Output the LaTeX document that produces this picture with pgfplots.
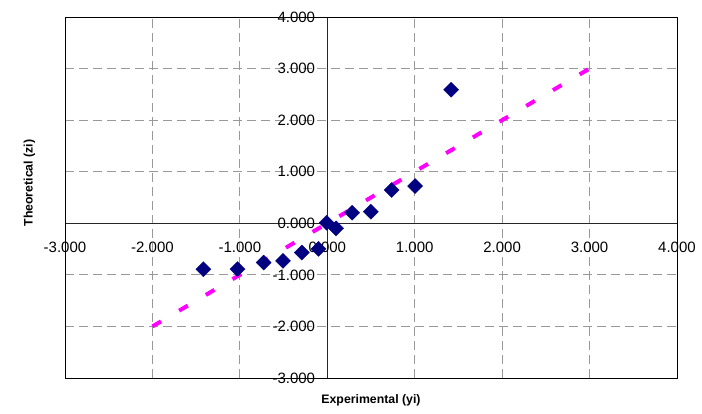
\documentclass[border=0pt]{standalone}
\usepackage{fontspec}
\setmainfont{Liberation Sans}
\usepackage{pgfplots}
\pgfplotsset{compat=1.18}
\definecolor{navy}{HTML}{000080}
\definecolor{mag}{HTML}{FF00FF}
\begin{document}
\begin{tikzpicture}
\begin{axis}[
  scale only axis, width=612pt, height=361pt,
  xmin=-3, xmax=4, ymin=-3, ymax=4,
  enlargelimits=false,
  axis lines=middle,
  axis line style={-, black!85, line width=0.8pt},
  xtick={-3,-2,-1,0,1,2,3,4}, ytick={-3,-2,-1,0,1,2,3,4},
  hide obscured x ticks=false, hide obscured y ticks=false,
  major tick length=0pt,
  grid=major,
  major grid style={black!40, line width=0.8pt, dash pattern=on 9pt off 5pt},
  /pgf/number format/.cd, fixed, zerofill, precision=3, assume math mode=true,
  /pgfplots/.cd,
  xticklabel style={font=\fontsize{15}{18}\selectfont, anchor=north, inner sep=0pt, yshift=-19pt},
  yticklabel style={font=\fontsize{15}{18}\selectfont, anchor=east, inner sep=0pt, xshift=-12pt},
  xlabel={Experimental (yi)},
  ylabel={Theoretical (zi)},
  xlabel style={font=\fontsize{12.3}{14}\bfseries\selectfont, at={(axis description cs:0.5,-0.061)}, anchor=center},
  ylabel style={font=\fontsize{12.3}{14}\bfseries\selectfont, at={(axis description cs:-0.058,0.54)}, anchor=center, rotate=90},
  clip=false,
]
\draw[black, line width=0.8pt] (rel axis cs:0,0) rectangle (rel axis cs:1,1);
\addplot[mag, line width=4pt, dash pattern=on 10pt off 21pt] coordinates {(-2,-2) (3,3)};
\addplot[only marks, mark=square*, mark size=5.3pt, mark options={rotate=45, fill=navy, draw=navy}] coordinates {
(-1.417,-0.890)
(-1.027,-0.890)
(-0.728,-0.762)
(-0.506,-0.729)
(-0.291,-0.568)
(-0.100,-0.497)
(-0.008,0.010)
(0.100,-0.097)
(0.284,0.205)
(0.498,0.225)
(0.736,0.644)
(1.004,0.722)
(1.417,2.590)
};
\end{axis}
\pgfresetboundingbox
\path (-65pt,-35pt) rectangle (637pt,378pt);
\end{tikzpicture}
\end{document}
